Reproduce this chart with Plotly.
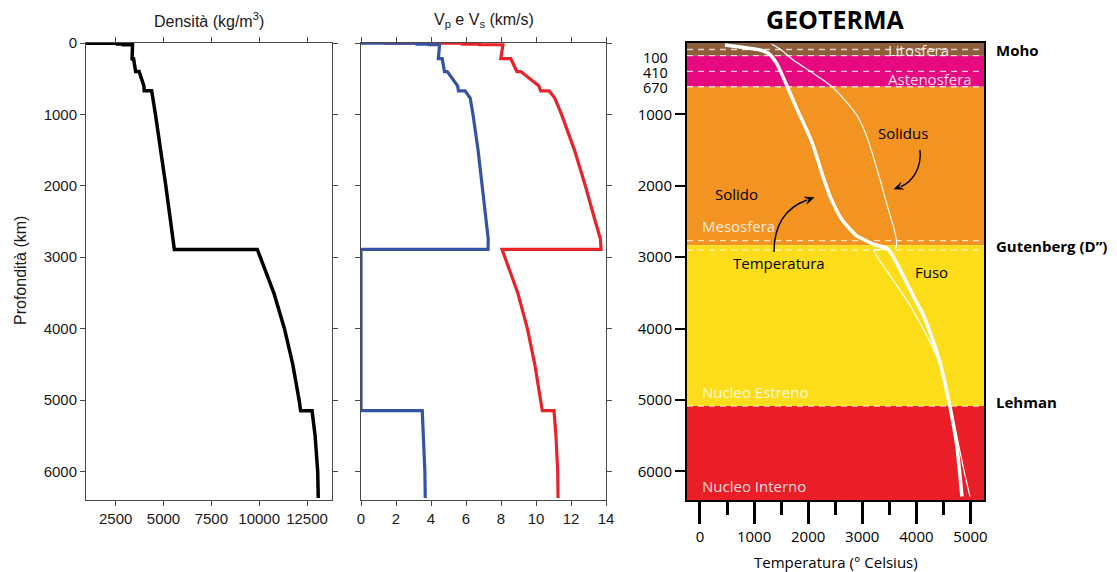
import plotly.graph_objects as go

# ---------------- data (PREM-like) ----------------
rho_depth = [0, 3, 3, 15, 15, 24.4, 24.4, 80, 220, 220, 400, 400, 600, 670, 670,
             1000, 1500, 2000, 2500, 2891, 2891, 3500, 4000, 4500, 5000, 5149.5,
             5149.5, 5500, 6000, 6371]
rho_values = [1020, 1020, 2600, 2600, 2900, 2900, 3381, 3375, 3360, 3436, 3543, 3724,
              3976, 3992, 4381, 4580, 4860, 5121, 5372, 5566, 9903, 10766, 11322,
              11756, 12086, 12166, 12764, 12923, 13059, 13088]

v_depth = [0, 3, 3, 15, 15, 24.4, 24.4, 80, 220, 220, 400, 400, 600, 670, 670, 771,
           1000, 1500, 2000, 2500, 2741, 2891, 2891, 3500, 4000, 4500, 5000, 5149.5,
           5149.5, 5500, 6000, 6371]
vp_values = [1.45, 1.45, 5.8, 5.8, 6.8, 6.8, 8.11, 8.08, 7.99, 8.56, 8.91, 9.13, 10.16,
             10.27, 10.75, 11.07, 11.46, 12.20, 12.82, 13.39, 13.68, 13.72, 8.06, 8.96,
             9.51, 9.93, 10.27, 10.36, 11.03, 11.14, 11.24, 11.26]
vs_values = [0, 0, 3.2, 3.2, 3.9, 3.9, 4.49, 4.47, 4.42, 4.64, 4.77, 4.93, 5.52, 5.57,
             5.95, 6.24, 6.40, 6.69, 6.93, 7.16, 7.27, 7.26, 0, 0, 0, 0, 0, 0, 3.50,
             3.58, 3.65, 3.67]

geo_temp = [462, 1109, 1262, 1417, 1602, 1787, 2001, 2094, 2249, 2402, 2619, 2896,
            3018, 3203, 3474, 3788, 3973, 4121, 4287, 4435, 4620, 4749, 4842]
geo_depth = [28, 98, 144, 285, 589, 915, 1266, 1440, 1812, 2141, 2467, 2701,
             2748, 2818, 2885, 3308, 3589, 3799, 4122, 4472, 5089, 5650, 6351]

solidus_temp = [1325, 1478, 1724, 2094, 2402, 2648, 2896, 3049, 3142, 3326, 3480,
                3604, 3635, 3610]
solidus_depth = [18, 84, 238, 425, 589, 775, 1009, 1243, 1440, 1907, 2327,
                 2654, 2818, 2885]

fuso_temp = [3474, 3216, 3560, 3890, 4260, 4450, 4620, 4760, 4875, 4990]
fuso_depth = [2895, 2902, 3308, 3683, 4196, 4528, 5061, 5552, 5972, 6351]

layer_top = [0, 178, 613, 2832, 5085]
layer_bottom = [178, 613, 2832, 5085, 6400]
layer_colors = ["#8b5d3b", "#e6097f", "#f39322", "#fddc1a", "#e91e26"]
boundary_depths = [91, 178, 397, 613, 2769, 2902, 5085]

depth_ticks = [0, 1000, 2000, 3000, 4000, 5000, 6000]
rho_ticks = [2500, 5000, 7500, 10000, 12500]
v_ticks = [0, 2, 4, 6, 8, 10, 12, 14]
temp_ticks = [0, 1000, 2000, 3000, 4000, 5000]
temp_minor_ticks = [500, 1500, 2500, 3500, 4500]
shallow_labels = ["100", "410", "670"]
shallow_label_depths = [196, 402, 617]

W, H = 1117, 572
MT, MB = 43, 72
PH = H - MT - MB
SANS = "Liberation Sans, Arial, sans-serif"
MYR = "Open Sans, sans-serif"
GRAY = "#4a4a4a"

# right panel geometry (pixels) for decorative arrows
X3_L, X3_R = 687.0, 984.0
T_RANGE = [-240, 5250]
D_RANGE = [6400, 0]


def py(px):
    """pixel row -> paper y"""
    return 1 - (px - MT) / PH


def px2t(px):
    return T_RANGE[0] + (px - X3_L) / (X3_R - X3_L) * (T_RANGE[1] - T_RANGE[0])


def py2d(pyy):
    return (pyy - MT) / PH * D_RANGE[0]


def arrow_path(pts):
    (x0, y0), (c1x, c1y), (c2x, c2y), (x1, y1) = pts
    return "M %.1f,%.1f C %.1f,%.1f %.1f,%.1f %.1f,%.1f" % (
        px2t(x0), py2d(y0), px2t(c1x), py2d(c1y), px2t(c2x), py2d(c2y), px2t(x1), py2d(y1))


def head_path(tip, direction, length=9.0, half=3.8):
    tx, ty = tip
    dx, dy = direction
    n = (dx * dx + dy * dy) ** 0.5
    dx, dy = dx / n, dy / n
    bx, by = tx - length * dx, ty - length * dy
    cx, cy = tx - 0.6 * length * dx, ty - 0.6 * length * dy
    p1 = (bx + half * dy, by - half * dx)
    p2 = (bx - half * dy, by + half * dx)
    pts = [(tx, ty), p1, (cx, cy), p2]
    return "M " + " L ".join("%.1f,%.1f" % (px2t(a), py2d(b)) for a, b in pts) + " Z"


fig = go.Figure()

fig.add_trace(go.Scatter(x=rho_values, y=rho_depth, mode="lines",
                         line=dict(color="black", width=3.5), xaxis="x", yaxis="y"))
fig.add_trace(go.Scatter(x=vp_values, y=v_depth, mode="lines",
                         line=dict(color="#e8232a", width=3.2), xaxis="x2", yaxis="y2"))
fig.add_trace(go.Scatter(x=vs_values, y=v_depth, mode="lines",
                         line=dict(color="#3453a3", width=3.2), xaxis="x2", yaxis="y2"))

fig.add_trace(go.Scatter(x=solidus_temp, y=solidus_depth, mode="lines",
                         line=dict(color="white", width=1.2, shape="spline"),
                         xaxis="x3", yaxis="y3"))
fig.add_trace(go.Scatter(x=fuso_temp, y=fuso_depth, mode="lines",
                         line=dict(color="white", width=1.2, shape="spline", smoothing=0.5),
                         xaxis="x3", yaxis="y3"))
fig.add_trace(go.Scatter(x=geo_temp, y=geo_depth, mode="lines",
                         line=dict(color="white", width=3.5, shape="spline", smoothing=0.6),
                         xaxis="x3", yaxis="y3"))

shapes = []
for top, bot, col in zip(layer_top, layer_bottom, layer_colors):
    shapes.append(dict(type="rect", xref="x3 domain", yref="y3", x0=0, x1=1,
                       y0=top, y1=bot, fillcolor=col, line=dict(width=0), layer="below"))
for d in boundary_depths:
    shapes.append(dict(type="line", xref="x3 domain", yref="y3", x0=0, x1=1, y0=d, y1=d,
                       line=dict(color="rgba(255,255,255,0.75)", width=1.3, dash="6px,5px"),
                       layer="below"))
# curved arrows (decorations)
shapes.append(dict(type="path", xref="x3", yref="y3",
                   path=arrow_path([(774, 252), (774, 225), (785, 208), (807, 200)]),
                   line=dict(color="black", width=1.4)))
shapes.append(dict(type="path", xref="x3", yref="y3",
                   path=head_path((814, 197.5), (0.94, -0.34)),
                   fillcolor="black", line=dict(color="black", width=0.5)))
shapes.append(dict(type="path", xref="x3", yref="y3",
                   path=arrow_path([(920, 150), (922, 168), (912, 182), (901, 186.5)]),
                   line=dict(color="black", width=1.4)))
shapes.append(dict(type="path", xref="x3", yref="y3",
                   path=head_path((894, 189), (-0.934, 0.357)),
                   fillcolor="black", line=dict(color="black", width=0.5)))

ann = []
C = dict(xanchor="center", yanchor="middle", showarrow=False)
# titles
ann.append(dict(C, text="Densità (kg/m<sup>3</sup>)", xref="paper", yref="paper",
                x=208.75 / W, y=py(20), font=dict(family=SANS, size=16, color="#1a1a1a")))
ann.append(dict(C, text="V<sub>p</sub> e V<sub>s</sub> (km/s)", xref="paper", yref="paper",
                x=483.5 / W, y=py(20), font=dict(family=SANS, size=16, color="#1a1a1a")))
ann.append(dict(text="<b>GEOTERMA</b>", xref="paper", yref="paper", xanchor="center",
                yanchor="top", showarrow=False, borderpad=0,
                x=835.5 / W, y=py(0.5), font=dict(family=MYR, size=25, color="black")))
ann.append(dict(C, text="Profondità (km)", xref="paper", yref="paper", textangle=-90,
                x=20 / W, y=py(271), font=dict(family=SANS, size=16, color="#1a1a1a")))
ann.append(dict(C, text="Temperatura (° Celsius)", xref="paper", yref="paper",
                x=835.5 / W, y=py(562), font=dict(family=MYR, size=15, color="black")))
# right side labels
for txt, d in [("Moho", 98), ("Gutenberg (D”)", 2842), ("Lehman", 5023)]:
    ann.append(dict(text="<b>%s</b>" % txt, xref="paper", yref="y3", x=994 / W, y=d,
                    xanchor="left", yanchor="middle", showarrow=False,
                    font=dict(family=MYR, size=15, color="black")))
for txt, d in zip(shallow_labels, shallow_label_depths):
    ann.append(dict(text=txt, xref="paper", yref="y3", x=669 / W, y=d, xanchor="right",
                    yanchor="middle", showarrow=False, height=14, borderpad=0,
                    font=dict(family=MYR, size=14.5, color="black")))
# inside labels
WH = "rgba(255,255,255,0.85)"
inside = [
    ("Litosfera", 4047, 98, "center", WH),
    ("Astenosfera", 4250, 505, "center", WH),
    ("Solidus", 3757, 1262, "center", "black"),
    ("Solido", 240, 2117, "left", "black"),
    ("Mesosfera", 0, 2561, "left", WH),
    ("Temperatura", 1465, 3084, "center", "black"),
    ("Fuso", 4287, 3211, "center", "black"),
    ("Nucleo Estreno", 0, 4889, "left", WH),
    ("Nucleo Interno", 0, 6197, "left", WH),
]
for txt, x, y, xa, col in inside:
    ann.append(dict(text=txt, xref="x3", yref="y3", x=x, y=y, xanchor=xa, yanchor="middle",
                    showarrow=False, font=dict(family=MYR, size=15, color=col)))

tickfont_l = dict(family=SANS, size=15, color="#1a1a1a")
tickfont_r = dict(family=MYR, size=15, color="black")

common_x = dict(showgrid=False, zeroline=False, showline=True, linecolor=GRAY, linewidth=1,
                mirror="ticks", ticks="outside", ticklen=5, tickcolor=GRAY, tickwidth=1,
                tickfont=tickfont_l, automargin=False)
common_y = dict(showgrid=False, zeroline=False, showline=True, linecolor=GRAY, linewidth=1,
                mirror="ticks", ticks="outside", ticklen=5, tickcolor=GRAY, tickwidth=1,
                tickfont=tickfont_l, automargin=False, range=D_RANGE, domain=[0, 1],
                tickvals=depth_ticks, ticktext=[str(v) for v in depth_ticks])

fig.update_layout(
    template="none",
    width=W, height=H,
    margin=dict(l=0, r=0, t=MT, b=MB, pad=0),
    paper_bgcolor="white", plot_bgcolor="white",
    showlegend=False,
    xaxis=dict(common_x, domain=[86 / W, 331.5 / W], range=[950, 13780], tickvals=rho_ticks,
               ticktext=[str(v) for v in rho_ticks], anchor="y"),
    yaxis=dict(common_y, anchor="x"),
    xaxis2=dict(common_x, domain=[361 / W, 606 / W], range=[0, 14], tickvals=v_ticks,
                ticktext=[str(v) for v in v_ticks], anchor="y2"),
    yaxis2=dict(common_y, anchor="x2", showticklabels=False),
    xaxis3=dict(domain=[X3_L / W, X3_R / W], range=T_RANGE, anchor="y3",
                showgrid=False, zeroline=False, showline=True, linecolor="black",
                linewidth=2, mirror=True, ticks="outside", ticklen=22, tickwidth=2.5,
                tickcolor="black", tickvals=temp_ticks,
                ticktext=[str(v) for v in temp_ticks], tickfont=tickfont_r,
                automargin=False,
                minor=dict(ticks="outside", ticklen=13, tickwidth=2.5, tickcolor="black",
                           tickvals=temp_minor_ticks)),
    yaxis3=dict(domain=[0, 1], range=D_RANGE, anchor="x3", showgrid=False, zeroline=False,
                showline=True, linecolor="black", linewidth=2, mirror=True,
                ticks="outside", ticklen=10, tickwidth=2, tickcolor="black",
                tickvals=depth_ticks[1:], ticktext=[str(v) for v in depth_ticks[1:]],
                tickfont=tickfont_r, automargin=False),
    shapes=shapes,
    annotations=ann,
)

fig.write_html("out.html", config={"displayModeBar": False},
               post_script="document.body.style.margin='0px';")
